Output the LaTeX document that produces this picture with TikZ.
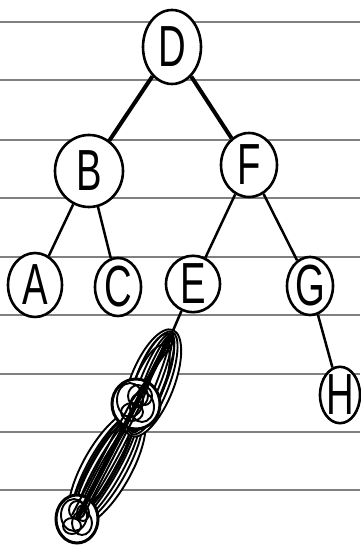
\documentclass[tikz,border=0pt]{standalone}
\usepackage{fontspec}
\setmainfont{Liberation Sans}
\usetikzlibrary{shapes.geometric,calc}
\begin{document}
\begin{tikzpicture}[x=1pt,y=1pt,
  vtx/.style={ellipse,draw=black,line width=2.6pt,fill=white,inner sep=0pt,
    font=\fontsize{58}{58}\selectfont},
  edge/.style={line width=2.5pt,black},
  heavy/.style={line width=4pt,black},
  paper/.style={black!50,line width=1.1pt},
  scr/.style={black,line width=1.9pt},
  blob/.style={ellipse,draw=black,line width=3pt,fill=white,inner sep=0pt}]
\fill[white] (0,0) rectangle (360,546);
\useasboundingbox (0,0) rectangle (360,546);
% ruled paper
\foreach \y in {524,466,406,348,289,231,172,114,56}
  \draw[paper] (0,\y) -- (360,\y);
% lettered nodes
\node[vtx,minimum width=58,minimum height=74] (D) at (172,499) {\scalebox{0.66}[1]{D}};
\node[vtx,minimum width=68,minimum height=72] (B) at (89,375) {\scalebox{0.66}[1]{B}};
\node[vtx,minimum width=56,minimum height=64] (F) at (249,381) {\scalebox{0.66}[1]{F}};
\node[vtx,minimum width=54,minimum height=64] (A) at (35,261) {\scalebox{0.66}[1]{A}};
\node[vtx,minimum width=46,minimum height=58] (C) at (118,259) {\scalebox{0.66}[1]{C}};
\node[vtx,minimum width=54,minimum height=56] (E) at (193,262) {\scalebox{0.66}[1]{E}};
\node[vtx,minimum width=46,minimum height=58] (G) at (310,260) {\scalebox{0.66}[1]{G}};
\node[vtx,minimum width=40,minimum height=54] (H) at (340,151) {\scalebox{0.66}[1]{H}};
% connectors
\draw[heavy] (D) -- (B);
\draw[heavy] (D) -- (F);
\draw[edge] (B) -- (A);
\draw[edge] (B) -- (C);
\draw[edge] (F) -- (E);
\draw[edge] (F) -- (G);
\draw[edge] (G) -- (H);
% scribbled (overwritten) part below E
\coordinate (s1) at (172,213);
\draw[edge] (E) -- (s1);
% lower long loop group
\begin{scope}[shift={(107,78)},rotate=60.5]
  \fill[white] (0,0) ellipse [x radius=66,y radius=24];
  \foreach \a/\b in {66/24,64/19,62/15,60/11,58/7,56/4}
    \draw[scr] (0,0) ellipse [x radius=\a,y radius=\b];
  \foreach \o in {-5,5}
    \draw[scr] (\o,4) ellipse [x radius=52,y radius=13];
\end{scope}
% upper long loop group
\begin{scope}[shift={(152,163)},rotate=68.6]
  \fill[white] (0,0) ellipse [x radius=57,y radius=22];
  \foreach \a/\b in {57/22,55/17,53/12,51/8,49/4}
    \draw[scr] (0,0) ellipse [x radius=\a,y radius=\b];
  \foreach \o in {-6,6}
    \draw[scr] (\o,2) ellipse [x radius=46,y radius=15];
\end{scope}
% middle overwritten node
\node[blob,minimum width=48,minimum height=50] (M) at (136,142) {};
\foreach \dx/\dy/\w/\h in {-6/4/26/34,6/-3/24/30,2/8/20/22,-4/-8/22/18,9/8/14/18}
  \draw[scr] ($(M)+(\dx,\dy)$) ellipse [x radius=\w/2,y radius=\h/2];
% bottom overwritten node
\node[blob,minimum width=42,minimum height=48] (Z) at (77,27) {};
\foreach \dx/\dy/\w/\h in {-3/4/26/32,5/-4/20/24,0/9/16/18,-5/-7/18/16,6/6/12/16}
  \draw[scr] ($(Z)+(\dx,\dy)$) ellipse [x radius=\w/2,y radius=\h/2];
% dark strokes through the scribble
\draw[line width=5pt,black] (s1) -- (M.center) -- (Z.center);
\draw[line width=2pt,black] ($(s1)+(-5,-4)$) -- ($(M.center)+(5,0)$) -- ($(Z.center)+(6,3)$);
\draw[line width=2pt,black] ($(s1)+(2,-8)$) -- ($(M.center)+(-5,2)$) -- ($(Z.center)+(-5,4)$);
\end{tikzpicture}
\end{document}
